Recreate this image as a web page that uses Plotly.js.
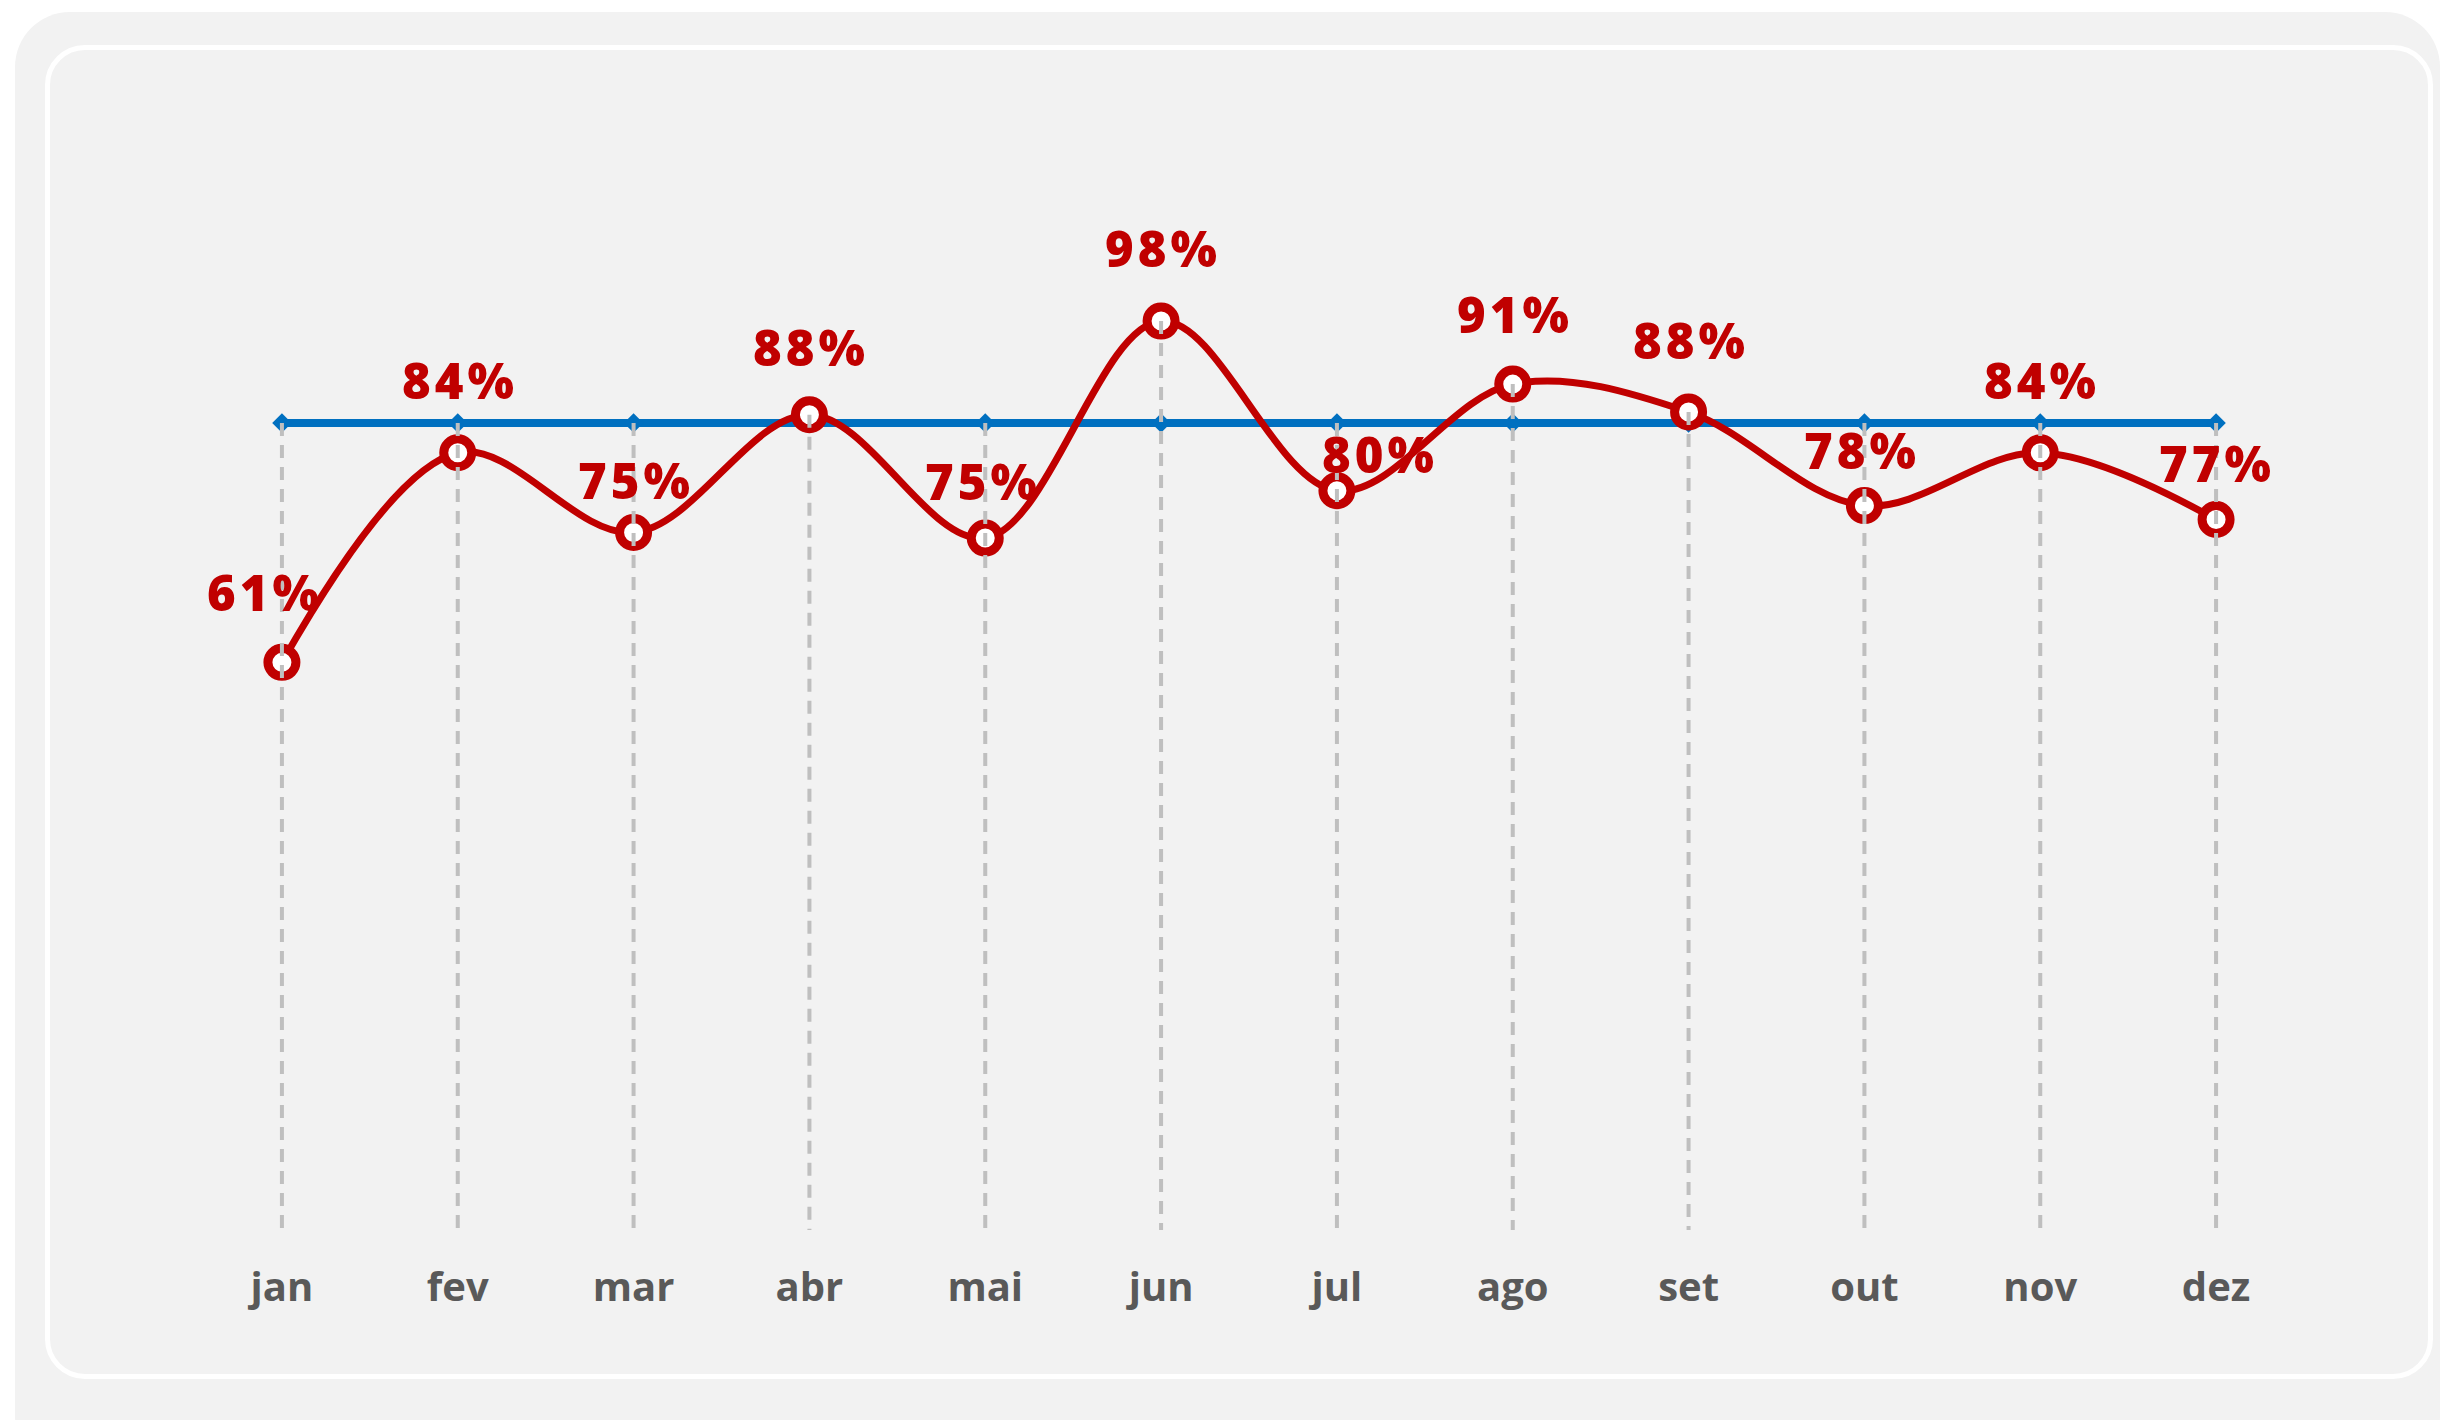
<!DOCTYPE html>
<html>
<head>
<meta charset="utf-8">
<script src="https://cdn.plot.ly/plotly-3.0.1.min.js"></script>
<style>
  html, body { margin: 0; padding: 0; background: #ffffff; overflow: hidden; }
  #outer { position: absolute; left: 15px; top: 12px; width: 2425px; height: 1460px;
           background: #f2f2f2; border-radius: 55px; }
  #inner { position: absolute; left: 45px; top: 45px; width: 2378px; height: 1324px;
           background: #f2f2f2; border: 5px solid #ffffff; border-radius: 40px; }
  #chart { position: absolute; left: 0; top: 0; width: 2440px; height: 1420px; }
  #chart .annotation-text { letter-spacing: 4px; }
</style>
</head>
<body>
<div id="outer"></div>
<div id="inner"></div>
<div id="chart"></div>
<script>
// ---- data ----
const months = ['jan', 'fev', 'mar', 'abr', 'mai', 'jun', 'jul', 'ago', 'set', 'out', 'nov', 'dez'];
const realizado = [0.612, 0.838, 0.752, 0.879, 0.746, 0.980, 0.797, 0.912, 0.882, 0.781, 0.838, 0.766];
const meta = [0.87, 0.87, 0.87, 0.87, 0.87, 0.87, 0.87, 0.87, 0.87, 0.87, 0.87, 0.87];

// ---- label placement (style, in pixels) ----
const labelDx = [-17, 2, 2, 2, -2, 2, 43, 2, 2, -2, 2, 1];
const labelDy = [70, 73, 53, 68, 57, 73, 37, 70, 72, 56, 73, 57];

// drop lines from the highest series value down to zero
const dropX = [], dropY = [];
months.forEach((m, i) => {
  dropX.push(m, m, null);
  dropY.push(Math.max(realizado[i], meta[i]), 0, null);
});

const traces = [
  {
    x: months, y: meta, type: 'scatter', mode: 'lines+markers',
    line: { color: '#0070c0', width: 8 },
    marker: { symbol: 'diamond', size: 15, color: '#0070c0' },
    hoverinfo: 'skip', showlegend: false, cliponaxis: false
  },
  {
    x: months, y: realizado, type: 'scatter', mode: 'lines+markers',
    line: { color: '#c00000', width: 7, shape: 'spline', smoothing: 1 },
    marker: { symbol: 'circle', size: 28, color: '#ffffff', line: { color: '#c00000', width: 9 } },
    hoverinfo: 'skip', showlegend: false, cliponaxis: false
  },
  {
    x: dropX, y: dropY, type: 'scatter', mode: 'lines',
    line: { color: '#bfbfbf', width: 4, dash: '13px,9px' },
    hoverinfo: 'skip', showlegend: false, connectgaps: false
  }
];

const annotations = months.map((m, i) => ({
  x: m, y: realizado[i], xref: 'x', yref: 'y',
  text: Math.round(realizado[i] * 100) + '%',
  showarrow: false, xanchor: 'center', yanchor: 'middle',
  xshift: labelDx[i], yshift: labelDy[i],
  font: { family: 'Open Sans', size: 49, color: '#c00000', weight: 800 }
}));

const layout = {
  width: 2440, height: 1420,
  margin: { l: 194, r: 136, t: 117, b: 190, pad: 0 },
  paper_bgcolor: 'rgba(0,0,0,0)', plot_bgcolor: 'rgba(0,0,0,0)',
  showlegend: false,
  xaxis: {
    type: 'category', range: [-0.5, 11.5], fixedrange: true,
    showgrid: false, zeroline: false, showline: false, ticks: '',
    ticklabelstandoff: 30,
    tickfont: { family: 'Open Sans', size: 40, color: '#595959', weight: 700 }
  },
  yaxis: {
    range: [0, 1.2], fixedrange: true, visible: false,
    showgrid: false, zeroline: false, showline: false, showticklabels: false
  },
  annotations: annotations
};

Plotly.newPlot('chart', traces, layout, { staticPlot: true, displayModeBar: false });
</script>
</body>
</html>
